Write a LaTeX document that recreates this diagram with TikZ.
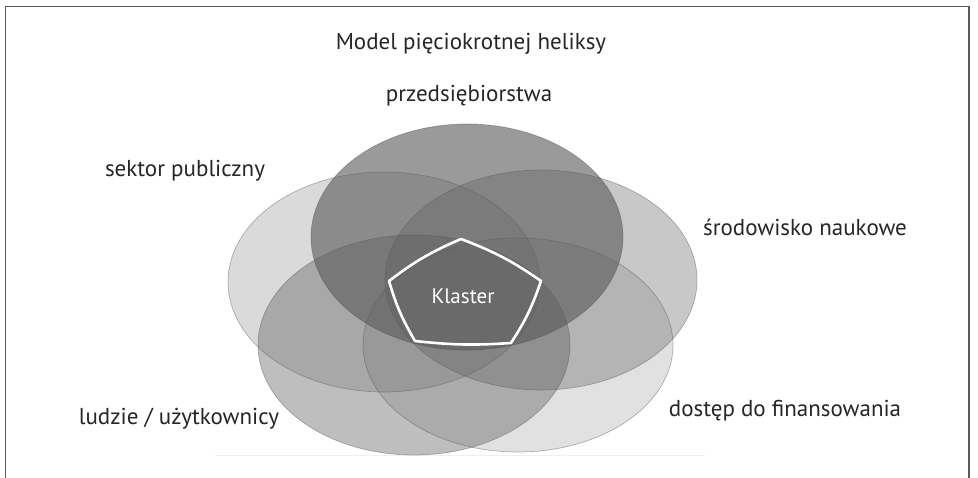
\documentclass[tikz,border=0pt]{standalone}
\usepackage{fontspec}
\setmainfont{PT Sans}
\begin{document}
\begin{tikzpicture}[x=1pt,y=-1pt,
  lbl/.style={font=\fontsize{23}{26}\selectfont, text=black!85, inner sep=0pt},
  blob/.style={fill=hgray, draw=black!70, line width=0.7pt, draw opacity=0.4}]
\definecolor{hgray}{RGB}{90,90,90}
\useasboundingbox (0,0) rectangle (978,478);
\fill[white] (0,0) rectangle (978,478);
% frame
\draw[line width=1.6pt, black!65] (5.5,478) -- (5.5,6.5) -- (969,6.5) -- (969,478);
% faint baseline
\draw[black!6, line width=0.8pt] (215,455) -- (705,455);
% ellipses
\path[blob, fill opacity=0.22] (384,282) ellipse [x radius=156, y radius=110];
\path[blob, fill opacity=0.33] (541,280) ellipse [x radius=156, y radius=110];
\path[blob, fill opacity=0.39] (414,345) ellipse [x radius=156, y radius=110];
\path[blob, fill opacity=0.18] (518,345) ellipse [x radius=155, y radius=107];
\path[blob, fill opacity=0.61] (467,237) ellipse [x radius=156, y radius=113];
% cluster pentagon
\coordinate (p1) at (461,239);
\coordinate (p2) at (541,281);
\coordinate (p3) at (511,343);
\coordinate (p4) at (415,341);
\coordinate (p5) at (389,281);
\draw[white, line width=2.6pt, line join=round]
  (p1) to[bend left=7] (p2) to[bend left=7] (p3) to[bend left=5] (p4) to[bend left=7] (p5) to[bend left=7] (p1) -- cycle;
\node[lbl, text=white, font=\fontsize{21}{24}\selectfont] (klaster) at (463,296) {Klaster};
% labels
\node[lbl] (title) at (471,44) {Model pięciokrotnej heliksy};
\node[lbl] (prz) at (469,96) {przedsiębiorstwa};
\node[lbl] (sek) at (185,171) {sektor publiczny};
\node[lbl] (nauk) at (805,227) {środowisko naukowe};
\node[lbl] (ludz) at (179,419) {ludzie / użytkownicy};
\node[lbl] (fin) at (785,411) {dostęp do finansowania};
\end{tikzpicture}
\end{document}
